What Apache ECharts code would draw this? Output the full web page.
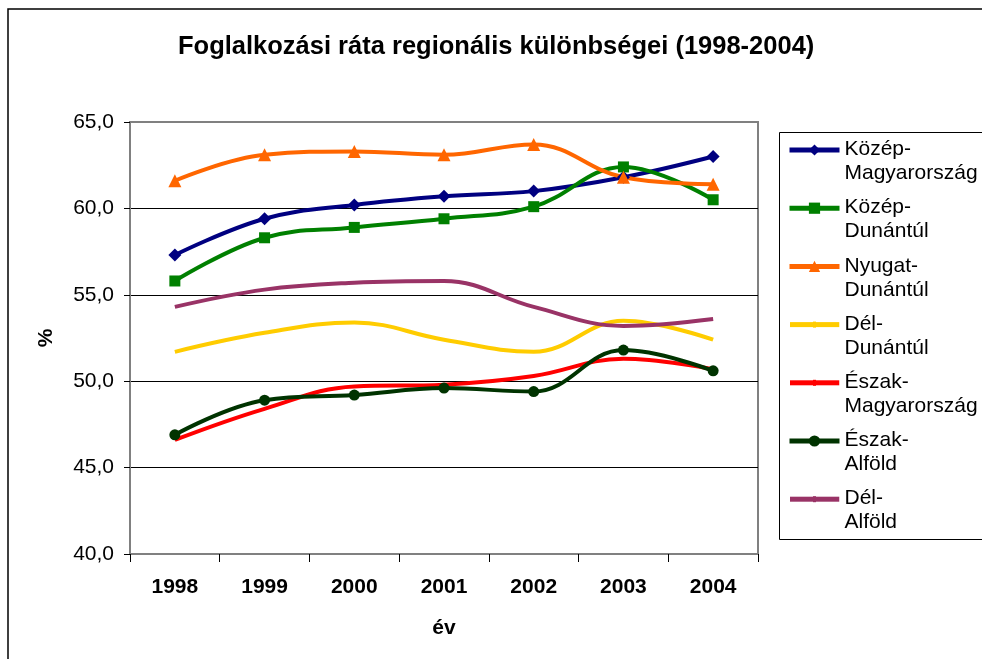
<!DOCTYPE html>
<html>
<head>
<meta charset="utf-8">
<script src="https://cdn.jsdelivr.net/npm/echarts@6/dist/echarts.min.js"></script>
<style>
  html, body { margin: 0; padding: 0; background: #fff; }
  #chart-container { width: 982px; height: 659px; }
</style>
</head>
<body>
<div id="chart-container"></div>
<script>
// years on the x axis
var years = ["1998", "1999", "2000", "2001", "2002", "2003", "2004"];
var yTicks = [40, 45, 50, 55, 60, 65];

// employment rate per region (%)
var kozepMagyarorszag = [57.3, 59.4, 60.2, 60.7, 61.0, 61.8, 63.0];
var kozepDunantul = [55.8, 58.3, 58.9, 59.4, 60.1, 62.4, 60.5];
var nyugatDunantul = [61.6, 63.1, 63.3, 63.1, 63.7, 61.8, 61.4];
var delDunantul = [51.7, 52.8, 53.4, 52.4, 51.7, 53.5, 52.4];
var eszakMagyarorszag = [46.6, 48.4, 49.7, 49.8, 50.3, 51.3, 50.7];
var eszakAlfold = [46.9, 48.9, 49.2, 49.6, 49.4, 51.8, 50.6];
var delAlfold = [54.3, 55.3, 55.7, 55.8, 54.3, 53.2, 53.6];

var regionNames = [
  "Közép-Magyarország",
  "Közép-Dunántúl",
  "Nyugat-Dunántúl",
  "Dél-Dunántúl",
  "Észak-Magyarország",
  "Észak-Alföld",
  "Dél-Alföld"
];
var regionValues = [kozepMagyarorszag, kozepDunantul, nyugatDunantul, delDunantul,
  eszakMagyarorszag, eszakAlfold, delAlfold];
var regionColors = ["#000080", "#008000", "#FF6600", "#FFCC00", "#FF0000", "#003300", "#993366"];
var regionSymbols = ["diamond", "rect", "triangle", "none", "none", "circle", "none"];
var regionSymbolSizes = [13, 11, 13, 4, 4, 11, 4];

var FONT = "'Liberation Sans', Arial, sans-serif";

// legend icon for series whose markers are too small to see: just a thick line
function lineIcon(color) {
  var svg = '<svg xmlns="http://www.w3.org/2000/svg" width="50" height="14">' +
    '<rect x="0" y="4.5" width="50" height="5" fill="' + color + '"/>' +
    '<rect x="23.5" y="4" width="3" height="6" fill="' + color + '"/></svg>';
  return "image://data:image/svg+xml;charset=utf-8," + encodeURIComponent(svg);
}

var dom = document.getElementById("chart-container");
var myChart = echarts.init(dom, null, { renderer: "canvas" });

var series = regionNames.map(function (name, i) {
  return {
    name: name,
    type: "line",
    data: regionValues[i],
    smooth: 0.4,
    symbol: regionSymbols[i],
    symbolSize: regionSymbolSizes[i],
    showAllSymbol: true,
    lineStyle: { width: 4, color: regionColors[i] },
    itemStyle: { color: regionColors[i] },
    emphasis: { disabled: true }
  };
});

var legendData = regionNames.map(function (name, i) {
  if (regionSymbols[i] === "none") {
    return { name: name, icon: lineIcon(regionColors[i]) };
  }
  return { name: name };
});

var option = {
  animation: false,
  backgroundColor: "#fff",
  textStyle: { fontFamily: FONT },
  title: {
    text: "Foglalkozási ráta regionális különbségei (1998-2004)",
    left: 178,
    top: 34,
    padding: 0,
    textStyle: { fontFamily: FONT, fontSize: 25.5, fontWeight: "bold", color: "#000" }
  },
  legend: {
    orient: "vertical",
    left: 787,
    top: 139,
    padding: 0,
    itemGap: 13.2,
    itemWidth: 50,
    itemHeight: 14,
    data: legendData,
    lineStyle: { width: 5 },
    formatter: function (name) {
      var cut = name.indexOf("-") + 1;
      return "{a|" + name.slice(0, cut) + "}\n{b|" + name.slice(cut) + "}";
    },
    textStyle: {
      fontFamily: FONT,
      fontSize: 21,
      color: "#000",
      rich: {
        a: { fontFamily: FONT, fontSize: 21, color: "#000", lineHeight: 27 },
        b: { fontFamily: FONT, fontSize: 21, color: "#000", lineHeight: 1, verticalAlign: "top" }
      }
    }
  },
  grid: {
    left: 130,
    top: 122,
    right: 224,
    bottom: 105,
    show: true,
    borderColor: "#808080",
    borderWidth: 2,
    backgroundColor: "#fff"
  },
  xAxis: {
    type: "category",
    data: years,
    boundaryGap: true,
    name: "év",
    nameLocation: "middle",
    nameGap: 64,
    nameTextStyle: { fontFamily: FONT, fontSize: 21, fontWeight: "bold", color: "#000" },
    axisLine: { lineStyle: { color: "#808080", width: 2 } },
    axisTick: { show: true, length: 8, lineStyle: { color: "#000", width: 1 } },
    axisLabel: { margin: 23, fontFamily: FONT, fontSize: 21, fontWeight: "bold", color: "#000" }
  },
  yAxis: {
    type: "value",
    min: yTicks[0],
    max: yTicks[yTicks.length - 1],
    interval: 5,
    name: "%",
    nameLocation: "middle",
    nameRotate: 90,
    nameGap: 73,
    nameTextStyle: { fontFamily: FONT, fontSize: 21, fontWeight: "bold", color: "#000" },
    axisLine: { show: true, lineStyle: { color: "#808080", width: 2 } },
    axisTick: { show: true, length: 6, lineStyle: { color: "#000", width: 1 } },
    axisLabel: {
      margin: 16,
      fontFamily: FONT,
      fontSize: 21,
      color: "#000",
      formatter: function (v) { return v.toFixed(1).replace(".", ","); }
    },
    splitLine: {
      show: true,
      lineStyle: { color: ["#808080", "#000", "#000", "#000", "#000", "#808080"], width: 1 }
    }
  },
  graphic: [
    {
      type: "rect",
      shape: { x: 8, y: 9, width: 1000, height: 700 },
      style: { fill: null, stroke: "#000", lineWidth: 1.5 },
      silent: true,
      z: 100
    },
    {
      type: "rect",
      shape: { x: 779.5, y: 132.5, width: 220, height: 407 },
      style: { fill: null, stroke: "#000", lineWidth: 1 },
      silent: true,
      z: 100
    }
  ],
  series: series
};

myChart.setOption(option);
window.addEventListener("resize", myChart.resize);
</script>
</body>
</html>
